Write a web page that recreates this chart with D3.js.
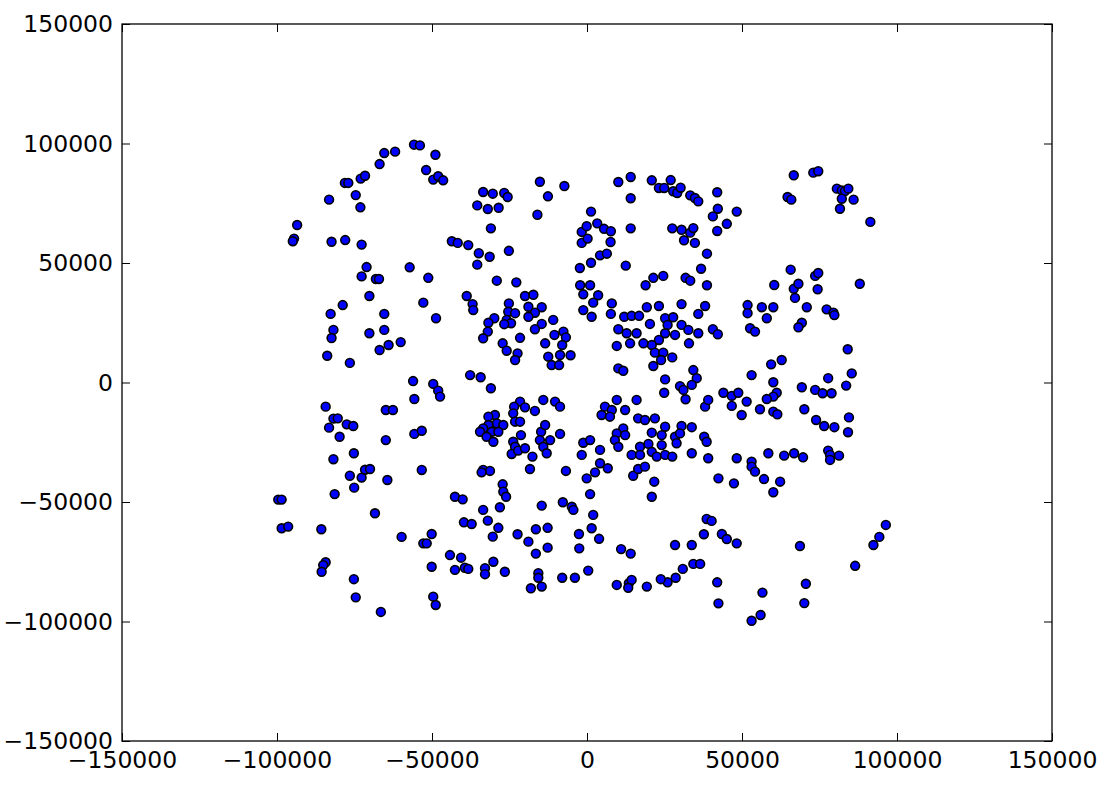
<!DOCTYPE html>
<html>
<head>
<meta charset="utf-8">
<script src="https://cdn.jsdelivr.net/npm/d3@7"></script>
<style>
  body { margin: 0; background: #fff; }
  svg { display: block; }
  .tick text { font-family: "DejaVu Sans", sans-serif; font-size: 23.5px; fill: #000; }
</style>
</head>
<body>
<svg id="chart" width="1110" height="789"></svg>
<script>
"use strict";

var xTicks = [-150000, -100000, -50000, 0, 50000, 100000, 150000];
var yTicks = [-150000, -100000, -50000, 0, 50000, 100000, 150000];

// points, [x, y]
var pointsNW = [
  [-55800,99500],[-53900,99200],[-65400,96000],[-61900,96600],[-66900,91400],[-78100,83500],[-77000,83500],
  [-73000,85300],[-71600,86500],[-74600,78400],[-83200,76500],[-73100,73300],[-93500,65900],[-94500,60200],
  [-94900,59100],[-82400,58900],[-78000,59600],[-72700,57700],[-71100,48300],[-72700,44400],[-68100,43300],
  [-67100,43300],[-57200,48200],[-70200,36200],
  [-48900,95300],[-51900,88900],[-49600,84900],[-48000,86300],[-46400,84600],[-33500,79700],[-30400,79000],
  [-26700,79300],[-25600,77600],[-35400,74100],[-32000,72600],[-28500,73100],[-15200,84000],[-12600,77900],
  [-7300,82200],[-16000,70200],[-31000,64500],[-43600,59100],[-41700,58400],[-38300,57500],[-34900,54100],
  [-31400,52600],[-35400,49300],[-25200,55100],[-1700,63000],[-1700,58400],[-2300,47900],[-2200,40700],
  [-51200,43800],[-29100,42600],[-22800,41900],[-38800,36200],[-20000,36200],[-17300,36700],[-1200,36900]
];

var pointsNE = [
  [10100,83900],[14100,86000],[20900,84600],[27000,84700],[23200,81400],[24900,81400],[27800,80000],
  [29100,79300],[30200,81500],[33300,78300],[34800,77200],[35900,75800],[42000,79600],[14100,77100],
  [42200,72700],[40600,69500],[48300,71500],[45100,66400],[42000,63400],[1300,71500],[3300,66600],
  [5500,64300],[7700,63300],[-100,65400],[200,60200],[7600,58800],[14100,64500],[27500,64500],[30500,63900],
  [33300,62700],[34300,64600],[31300,59500],[34800,58400],[38700,53900],[36800,47600],[38700,40700],
  [4200,53200],[6400,53900],[1300,50100],[12500,48900],[21400,43800],[24600,44600],[18900,40700],
  [31800,43800],[33300,42600],[1000,40700],[3600,36500],
  [66700,86700],[73000,87800],[74600,88400],[64700,77600],[65900,76500],[80600,81100],[82200,80400],
  [83200,80100],[84300,81100],[82200,76900],[86000,76500],[81600,72700],[91400,67200],[65700,47200],
  [60400,40800],[66700,39200],[68200,41300],[73600,44600],[74600,45800],[74400,39000],[88000,41300],
  [67100,35400]
];

var pointsW = [
  [-78800,32400],[-52800,33400],[-82700,28700],[-65400,28700],[-81800,22000],[-82400,18600],[-70200,20600],
  [-65400,22000],[-66900,13600],[-64000,15700],[-60100,16900],[-83800,11200],[-76500,8200],[-56100,600],
  [-55700,-6900],[-84300,-10100],[-81800,-15100],[-80400,-15000],[-83200,-18900],[-77500,-17500],
  [-75400,-18200],[-64900,-11500],[-62600,-11500],[-79800,-22700],[-64900,-24100],[-55700,-21500],
  [-53300,-20200],[-81800,-32100],[-75200,-29600],
  [-48700,26900],[-36900,32800],[-36700,30300],[-25200,33100],[-25400,29600],[-23200,29000],[-25900,26200],
  [-24500,24800],[-26700,24400],[-29900,26900],[-31800,25000],[-32000,21300],[-33500,18500],[-18900,31700],
  [-14600,31500],[-16800,29200],[-18900,27500],[-14600,24500],[-16800,22300],[-21600,18700],[-27200,16400],
  [-25900,13300],[-22400,12200],[-23200,9400],[-10900,26200],[-13500,16400],[-10500,19900],[-7600,21300],
  [-6800,18900],[-8000,15700],[-12500,10800],[-8700,11500],[-5300,11400],[-11400,7300],[-9000,7300],
  [-1200,30300],[-37700,3100],[-34300,2200],[-31000,-2400],[-49600,-600],[-48000,-3400],[-47400,-5900],
  [-21600,-8000],[-23500,-10100],[-20000,-10400],[-23800,-12900],[-23200,-16400],[-21600,-16400],
  [-16800,-11900],[-14100,-7300],[-10300,-8000],[-8700,-10100],[-29700,-13600],[-31800,-14300],
  [-29100,-17100],[-31800,-17800],[-27000,-17800],[-33500,-19200],[-34500,-20600],[-30700,-20600],
  [-28600,-20600],[-32400,-22700],[-30200,-24800],[-23800,-24800],[-21300,-22000],[-23200,-26900],
  [-24300,-29900],[-22200,-28500],[-20000,-27500],[-17600,-31000],[-14800,-20600],[-13500,-17800],
  [-15200,-24100],[-14100,-26900],[-13000,-29600],[-11900,-24100],[-8700,-21500],[-1200,-25200],[-1700,-30300]
];

var pointsE = [
  [2000,33400],[1500,27500],[8000,33100],[7700,28700],[12000,27500],[14400,27900],[16800,27900],[19300,31500],
  [23200,32000],[30500,32800],[38100,32000],[35900,28700],[20300,24500],[25200,26900],[27800,27300],
  [26000,24100],[30500,24100],[32700,22000],[28400,19900],[25200,20600],[23200,17800],[20900,15700],
  [18200,16400],[16000,20600],[13900,16400],[12800,20600],[10100,22300],[9600,15300],[35900,20600],
  [40600,22300],[42200,20200],[32900,16400],[21900,12500],[24600,12500],[23900,9400],[27500,10500],
  [21400,6900],[10100,5900],[11700,4900],[25200,1300],[24900,-4300],[34300,5200],[35400,1800],[30000,-1500],
  [31100,-3100],[33800,-1000],[31800,-7000],[38100,-10100],[39100,-7300],[44000,-4300],[46700,-5600],
  [48800,-4300],[46700,-9800],[49900,-13600],
  [5800,-10100],[9600,-7300],[4700,-13600],[8000,-11500],[7400,-14300],[12300,-11500],[16000,-7300],
  [16500,-15000],[18700,-15700],[21900,-15000],[25200,-18500],[30500,-18200],[33800,-18700],[11700,-19200],
  [9600,-21300],[12300,-22000],[9000,-24100],[10100,-26900],[4200,-28200],[1000,-24100],[20900,-21000],
  [24100,-22000],[28400,-22700],[30000,-21300],[28900,-25400],[24100,-26200],[19800,-25700],[17100,-26900],
  [14400,-30300],[17100,-30300],[20900,-29000],[22500,-31000],[25200,-30300],[27500,-31000],[33800,-29600],
  [37800,-22700],[38600,-24800],[39100,-31700],[48300,-31700],[4200,-33800],
  [51800,32400],[51800,29000],[56400,31500],[60100,31500],[58000,26900],[70900,31500],[77300,30600],
  [79500,29200],[79800,28200],[52600,22700],[54200,21300],[69300,25000],[68200,23100],[84100,13900],
  [59400,7600],[62800,9400],[53100,3100],[60100,100],[77800,1800],[85400,3800],[83600,-1300],[69300,-2000],
  [73600,-3100],[76000,-4500],[78900,-4500],[61200,-4300],[60100,-5900],[58000,-6900],[51500,-8000],
  [55800,-11200],[60100,-12200],[61400,-13300],[70100,-11200],[84500,-14600],[73900,-15700],[76500,-18200],
  [79800,-18700],[84200,-20800],[58500,-29600],[63600,-30600],[66800,-29600],[69700,-31300],[77800,-28500],
  [78400,-30300],[81300,-30600],[53100,-33100],[78400,-32400]
];

var pointsSW = [
  [-76500,-39000],[-72700,-39800],[-71600,-36500],[-70000,-36200],[-75100,-44000],[-64400,-40800],
  [-53300,-36600],[-81400,-46700],[-99600,-49000],[-98500,-49000],[-68400,-54700],[-98500,-61000],
  [-96400,-60300],[-85700,-61400],[-59800,-64600],[-52800,-67300],[-84300,-75200],[-85100,-76400],
  [-85600,-79200],[-75200,-82300],[-74600,-89900],[-66500,-96000],
  [-33500,-36600],[-31300,-37000],[-34000,-37600],[-18400,-36200],[-6800,-37000],[-27200,-42600],
  [-27000,-45700],[-26100,-47800],[-42600,-47800],[-40100,-48900],[-28100,-52200],[-33500,-53300],
  [-32000,-57800],[-14600,-51500],[-7800,-50100],[-4900,-52000],[-4400,-53300],[-39700,-58500],
  [-37200,-59200],[-28600,-60800],[-30400,-64500],[-50100,-63400],[-51700,-67300],[-22400,-63500],
  [-18900,-66600],[-16500,-61400],[-12700,-60800],[-12700,-69100],[-16500,-71600],[-2600,-63400],
  [-2500,-69400],[-44200,-72200],[-40600,-73300],[-42600,-78400],[-39400,-77500],[-38300,-78000],
  [-50100,-77100],[-32900,-77700],[-32900,-80200],[-30200,-75000],[-26500,-79200],[-15700,-79800],
  [-15700,-81700],[-18100,-86100],[-14600,-85400],[-8000,-81700],[-3900,-81700],[-49600,-89600],[-48800,-93100]
];

var pointsSE = [
  [-100,-40100],[2600,-37600],[6700,-35900],[14900,-39000],[16500,-36200],[18700,-35200],[21700,-41500],
  [20900,-47800],[42400,-40100],[47400,-42200],[1000,-46700],[2000,-55400],[1500,-61000],[3900,-65400],
  [11000,-69700],[14100,-71600],[38600,-57100],[40200,-57900],[37700,-63500],[43500,-63400],[45100,-65500],
  [48300,-67300],[28400,-68000],[33800,-68000],[34300,-75900],[36500,-75900],[30900,-78000],[28600,-81700],
  [26000,-83600],[23800,-82300],[400,-78700],[9600,-84700],[13500,-84000],[14400,-82600],[13300,-85900],
  [19300,-85400],[42000,-83600],[42400,-92400],
  [53100,-35200],[54200,-37300],[57100,-40400],[62300,-41500],[60100,-45900],[96400,-59600],[94300,-64600],
  [92400,-68000],[68700,-68400],[86500,-76700],[70600,-84200],[56600,-87900],[70100,-92300],[56000,-97300],
  [53100,-99700]
];

var points = [].concat(pointsNW, pointsNE, pointsW, pointsE, pointsSW, pointsSE);

var margin = {top: 24, right: 58, bottom: 48, left: 122};
var width = 1110 - margin.left - margin.right;
var height = 789 - margin.top - margin.bottom;

var svg = d3.select('#chart');
var g = svg.append('g')
    .attr('transform', 'translate(' + margin.left + ',' + margin.top + ')');

var x = d3.scaleLinear().domain([-150000, 150000]).range([0, width]);
var y = d3.scaleLinear().domain([-150000, 150000]).range([height, 0]);

var fmt = d3.format('d');
var tickLen = 8;

function styleAxis(sel) {
    sel.select('.domain').remove();
    sel.selectAll('.tick line').attr('stroke', '#000').attr('stroke-width', 1);
}

// ticks point inward on all four sides, labels only bottom/left
g.append('g')
    .attr('transform', 'translate(0,' + height + ')')
    .call(d3.axisBottom(x).tickValues(xTicks).tickFormat(fmt).tickSize(-tickLen).tickPadding(10))
    .call(styleAxis);

g.append('g')
    .call(d3.axisTop(x).tickValues(xTicks).tickFormat('').tickSize(-tickLen))
    .call(styleAxis);

g.append('g')
    .call(d3.axisLeft(y).tickValues(yTicks).tickFormat(fmt).tickSize(-tickLen).tickPadding(9))
    .call(styleAxis);

g.append('g')
    .attr('transform', 'translate(' + width + ',0)')
    .call(d3.axisRight(y).tickValues(yTicks).tickFormat('').tickSize(-tickLen))
    .call(styleAxis);

g.selectAll('.tick text').attr('fill', '#000');

g.append('g')
    .selectAll('circle')
    .data(points)
    .join('circle')
        .attr('cx', function(d) { return x(d[0]); })
        .attr('cy', function(d) { return y(d[1]); })
        .attr('r', 4.4)
        .attr('fill', '#0000ff')
        .attr('stroke', '#000')
        .attr('stroke-width', 1.6);

g.append('rect')
    .attr('width', width)
    .attr('height', height)
    .attr('fill', 'none')
    .attr('stroke', '#000')
    .attr('stroke-width', 1.3);
</script>
</body>
</html>
